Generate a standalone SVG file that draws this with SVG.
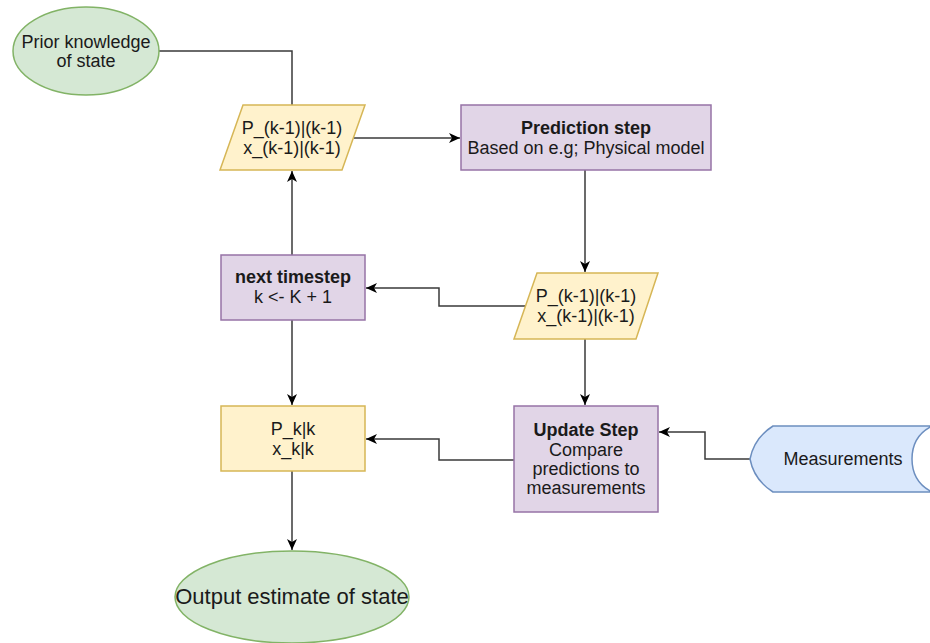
<svg xmlns="http://www.w3.org/2000/svg" width="930" height="643" viewBox="0 0 930 643">
  <style>
    .txt { font-family: "Liberation Sans", Arial, sans-serif; font-size: 18px; fill: #1a1a1a; text-anchor: middle; }
    .b { font-weight: bold; }
    .green { fill: #d5e8d4; stroke: #82b366; stroke-width: 1.5; }
    .yellow { fill: #fff2cc; stroke: #d6b656; stroke-width: 1.5; }
    .purple { fill: #e1d5e7; stroke: #9673a6; stroke-width: 1.5; }
    .blue { fill: #dae8fc; stroke: #6c8ebf; stroke-width: 1.5; }
    .edge { fill: none; stroke: #3a3a3a; stroke-width: 1.5; }
  </style>
  <defs>
    <marker id="arrow" viewBox="0 0 12 12" refX="11" refY="6" markerWidth="12" markerHeight="12" markerUnits="userSpaceOnUse" orient="auto">
      <path d="M0,1 L11,6 L0,11 L3,6 Z" fill="#000"/>
    </marker>
  </defs>

  <rect width="930" height="643" fill="#fff"/>

  <g id="connectors">
    <path class="edge" d="M158,51 H292 V105"/>
    <path class="edge" d="M354,138 H460" marker-end="url(#arrow)"/>
    <path class="edge" d="M585,170 V272" marker-end="url(#arrow)"/>
    <path class="edge" d="M525,306 H439 V288 H366" marker-end="url(#arrow)"/>
    <path class="edge" d="M292,255 V171" marker-end="url(#arrow)"/>
    <path class="edge" d="M292,320 V405" marker-end="url(#arrow)"/>
    <path class="edge" d="M585,339 V405" marker-end="url(#arrow)"/>
    <path class="edge" d="M514,460 H439 V439 H366" marker-end="url(#arrow)"/>
    <path class="edge" d="M750,459 H705 V432 H659" marker-end="url(#arrow)"/>
    <path class="edge" d="M292,471 V550" marker-end="url(#arrow)"/>
  </g>

  <g id="prior-knowledge">
    <ellipse class="green" cx="86" cy="51" rx="73" ry="44"/>
    <text class="txt" x="86" y="48">Prior knowledge</text>
    <text class="txt" x="86" y="67">of state</text>
  </g>

  <g id="prior-estimate">
    <polygon class="yellow" points="243,105 365,105 342,170 220,170"/>
    <text class="txt" x="292" y="134">P_(k-1)|(k-1)</text>
    <text class="txt" x="292" y="154">x_(k-1)|(k-1)</text>
  </g>

  <g id="prediction-step">
    <rect class="purple" x="461" y="105" width="250" height="65"/>
    <text class="txt b" x="586" y="134">Prediction step</text>
    <text class="txt" x="586" y="154">Based on e.g; Physical model</text>
  </g>

  <g id="predicted-estimate">
    <polygon class="yellow" points="537,273 658,273 636,339 514,339"/>
    <text class="txt" x="586" y="302">P_(k-1)|(k-1)</text>
    <text class="txt" x="586" y="322">x_(k-1)|(k-1)</text>
  </g>

  <g id="next-timestep">
    <rect class="purple" x="221" y="255" width="144" height="65"/>
    <text class="txt b" x="293" y="283">next timestep</text>
    <text class="txt" x="293" y="303">k &lt;- K + 1</text>
  </g>

  <g id="posterior-estimate">
    <rect class="yellow" x="221" y="406" width="144" height="65"/>
    <text class="txt" x="293" y="435">P_k|k</text>
    <text class="txt" x="293" y="455">x_k|k</text>
  </g>

  <g id="update-step">
    <rect class="purple" x="514" y="406" width="144" height="106"/>
    <text class="txt b" x="586" y="436">Update Step</text>
    <text class="txt" x="586" y="456">Compare</text>
    <text class="txt" x="586" y="475">predictions to</text>
    <text class="txt" x="586" y="494">measurements</text>
  </g>

  <g id="measurements">
    <path class="blue" d="M932,426 H773 Q754,438 750,459 Q754,480 773,492 H932 Q912,482 912,459 Q912,436 932,426 Z"/>
    <text class="txt" x="843" y="465">Measurements</text>
  </g>

  <g id="output-estimate">
    <ellipse class="green" cx="292" cy="597" rx="117" ry="46"/>
    <text class="txt" x="292" y="604" style="font-size:22px">Output estimate of state</text>
  </g>
</svg>
